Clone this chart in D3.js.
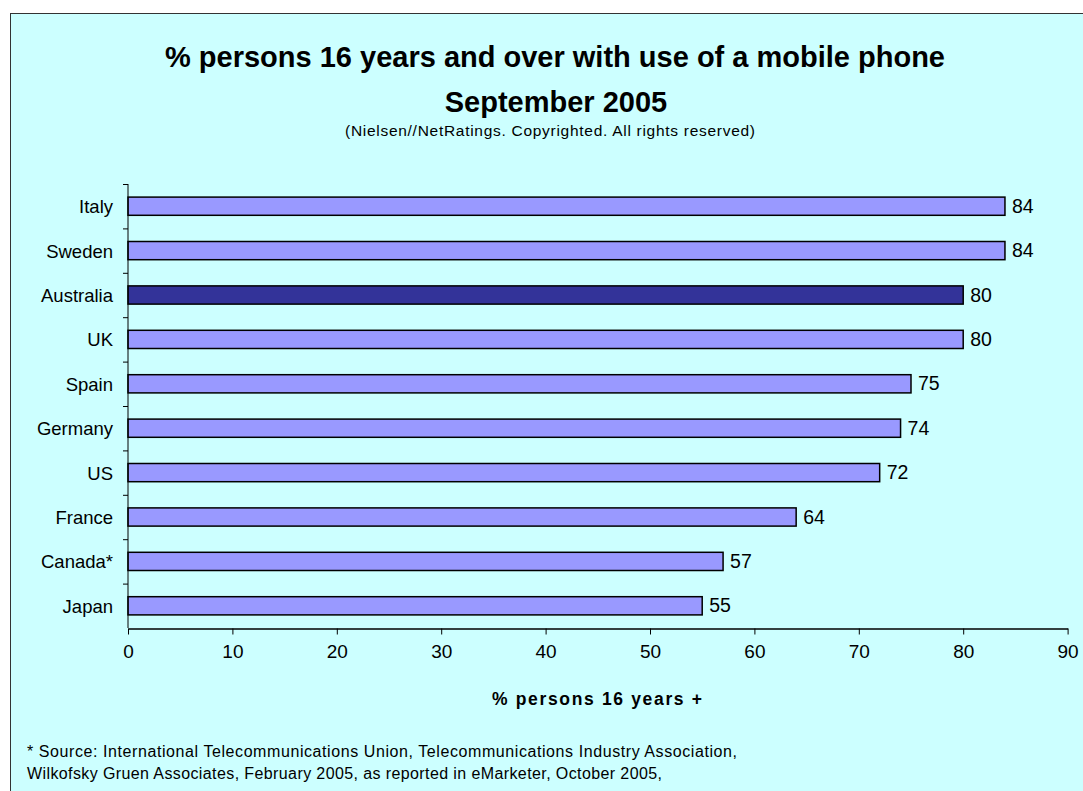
<!DOCTYPE html>
<html>
<head>
<meta charset="utf-8">
<script src="https://cdn.jsdelivr.net/npm/d3@7/dist/d3.min.js"></script>
<style>
  html, body { margin: 0; padding: 0; background: #ffffff; }
  svg { display: block; }
  text { font-family: Arial, "Liberation Sans", sans-serif; fill: #000; }
</style>
</head>
<body>
<svg id="chart" width="1083" height="791"></svg>
<script>
// Mobile phone use by country, September 2005
const countries = ["Italy", "Sweden", "Australia", "UK", "Spain", "Germany", "US", "France", "Canada*", "Japan"];
const values = [84, 84, 80, 80, 75, 74, 72, 64, 57, 55];
const highlighted = ["Australia"];
const xTicks = [0, 10, 20, 30, 40, 50, 60, 70, 80, 90];

const titleLines = ["% persons 16 years and over with use of a mobile phone", "September 2005"];
const subtitle = "(Nielsen//NetRatings. Copyrighted. All rights reserved)";
const xAxisTitle = "% persons 16 years +";
const footnotes = [
  "* Source: International Telecommunications Union, Telecommunications Industry Association,",
  "Wilkofsky Gruen Associates, February 2005, as reported in eMarketer, October 2005,"
];

const svg = d3.select("#chart");

// chart panel (runs off the right and bottom edges)
svg.append("rect")
  .attr("x", 10.5).attr("y", 13.5)
  .attr("width", 1200).attr("height", 900)
  .attr("fill", "#CCFFFF")
  .attr("stroke", "#333333").attr("stroke-width", 1);

const plot = { left: 128, right: 1067.6, top: 184, bottom: 628 };

const x = d3.scaleLinear().domain([0, 90]).range([plot.left, plot.right]);
const y = d3.scaleBand().domain(countries).range([plot.top, plot.bottom])
  .paddingInner(0.59).paddingOuter(0.295);

// titles
svg.append("text").attr("x", 555).attr("y", 67)
  .attr("text-anchor", "middle").style("font-weight", "bold").style("font-size", "29px")
  .text(titleLines[0]);
svg.append("text").attr("x", 556).attr("y", 112)
  .attr("text-anchor", "middle").style("font-weight", "bold").style("font-size", "29px")
  .text(titleLines[1]);
svg.append("text").attr("x", 550).attr("y", 136)
  .attr("text-anchor", "middle").style("font-size", "15.5px")
  .attr("textLength", 410).attr("lengthAdjust", "spacing")
  .text(subtitle);

// bars
svg.append("g").selectAll("rect")
  .data(countries)
  .join("rect")
  .attr("x", x(0))
  .attr("y", d => y(d))
  .attr("width", (d, i) => x(values[i]) - x(0))
  .attr("height", y.bandwidth())
  .attr("fill", d => highlighted.includes(d) ? "#333399" : "#9999FF")
  .attr("stroke", "#000").attr("stroke-width", 1.5);

// value labels
svg.append("g").selectAll("text")
  .data(countries)
  .join("text")
  .attr("x", (d, i) => x(values[i]) + 7)
  .attr("y", d => y(d) + y.bandwidth() / 2 + 6.5)
  .style("font-size", "19.5px")
  .text((d, i) => values[i]);

// category axis
const yAxis = svg.append("g");
yAxis.append("line")
  .attr("x1", plot.left).attr("x2", plot.left)
  .attr("y1", plot.top).attr("y2", plot.bottom)
  .attr("stroke", "#000").attr("stroke-width", 1);
const step = y.step();
const boundaries = countries.map(c => y(c) - step * y.paddingInner() / 2);
yAxis.selectAll("line.tick")
  .data(boundaries)
  .join("line").attr("class", "tick")
  .attr("x1", plot.left - 5).attr("x2", plot.left)
  .attr("y1", d => d + 0.5).attr("y2", d => d + 0.5)
  .attr("stroke", "#000");
yAxis.selectAll("text")
  .data(countries)
  .join("text")
  .attr("x", plot.left - 15)
  .attr("y", d => y(d) + y.bandwidth() / 2 + 7)
  .attr("text-anchor", "end")
  .style("font-size", "18.5px")
  .text(d => d);

// value axis
const xAxis = svg.append("g")
  .attr("transform", `translate(0,${plot.bottom + 0.5})`)
  .call(d3.axisBottom(x).tickValues(xTicks).tickSize(6).tickSizeOuter(0).tickPadding(10));
xAxis.select(".domain").attr("stroke", "#000").attr("stroke-width", 1.5);
xAxis.selectAll(".tick line").attr("stroke", "#000");
xAxis.selectAll(".tick text")
  .attr("font-family", null).attr("font-size", null)
  .style("font-size", "19px").attr("fill", "#000");

svg.append("text").attr("x", 597).attr("y", 705)
  .attr("text-anchor", "middle").style("font-weight", "bold").style("font-size", "17.5px")
  .attr("textLength", 210).attr("lengthAdjust", "spacing")
  .text(xAxisTitle);

// footnote
svg.append("text").attr("x", 27).attr("y", 757).style("font-size", "16px")
  .attr("textLength", 710).attr("lengthAdjust", "spacing").text(footnotes[0]);
svg.append("text").attr("x", 27).attr("y", 779).style("font-size", "16px")
  .attr("textLength", 635).attr("lengthAdjust", "spacing").text(footnotes[1]);
</script>
</body>
</html>
